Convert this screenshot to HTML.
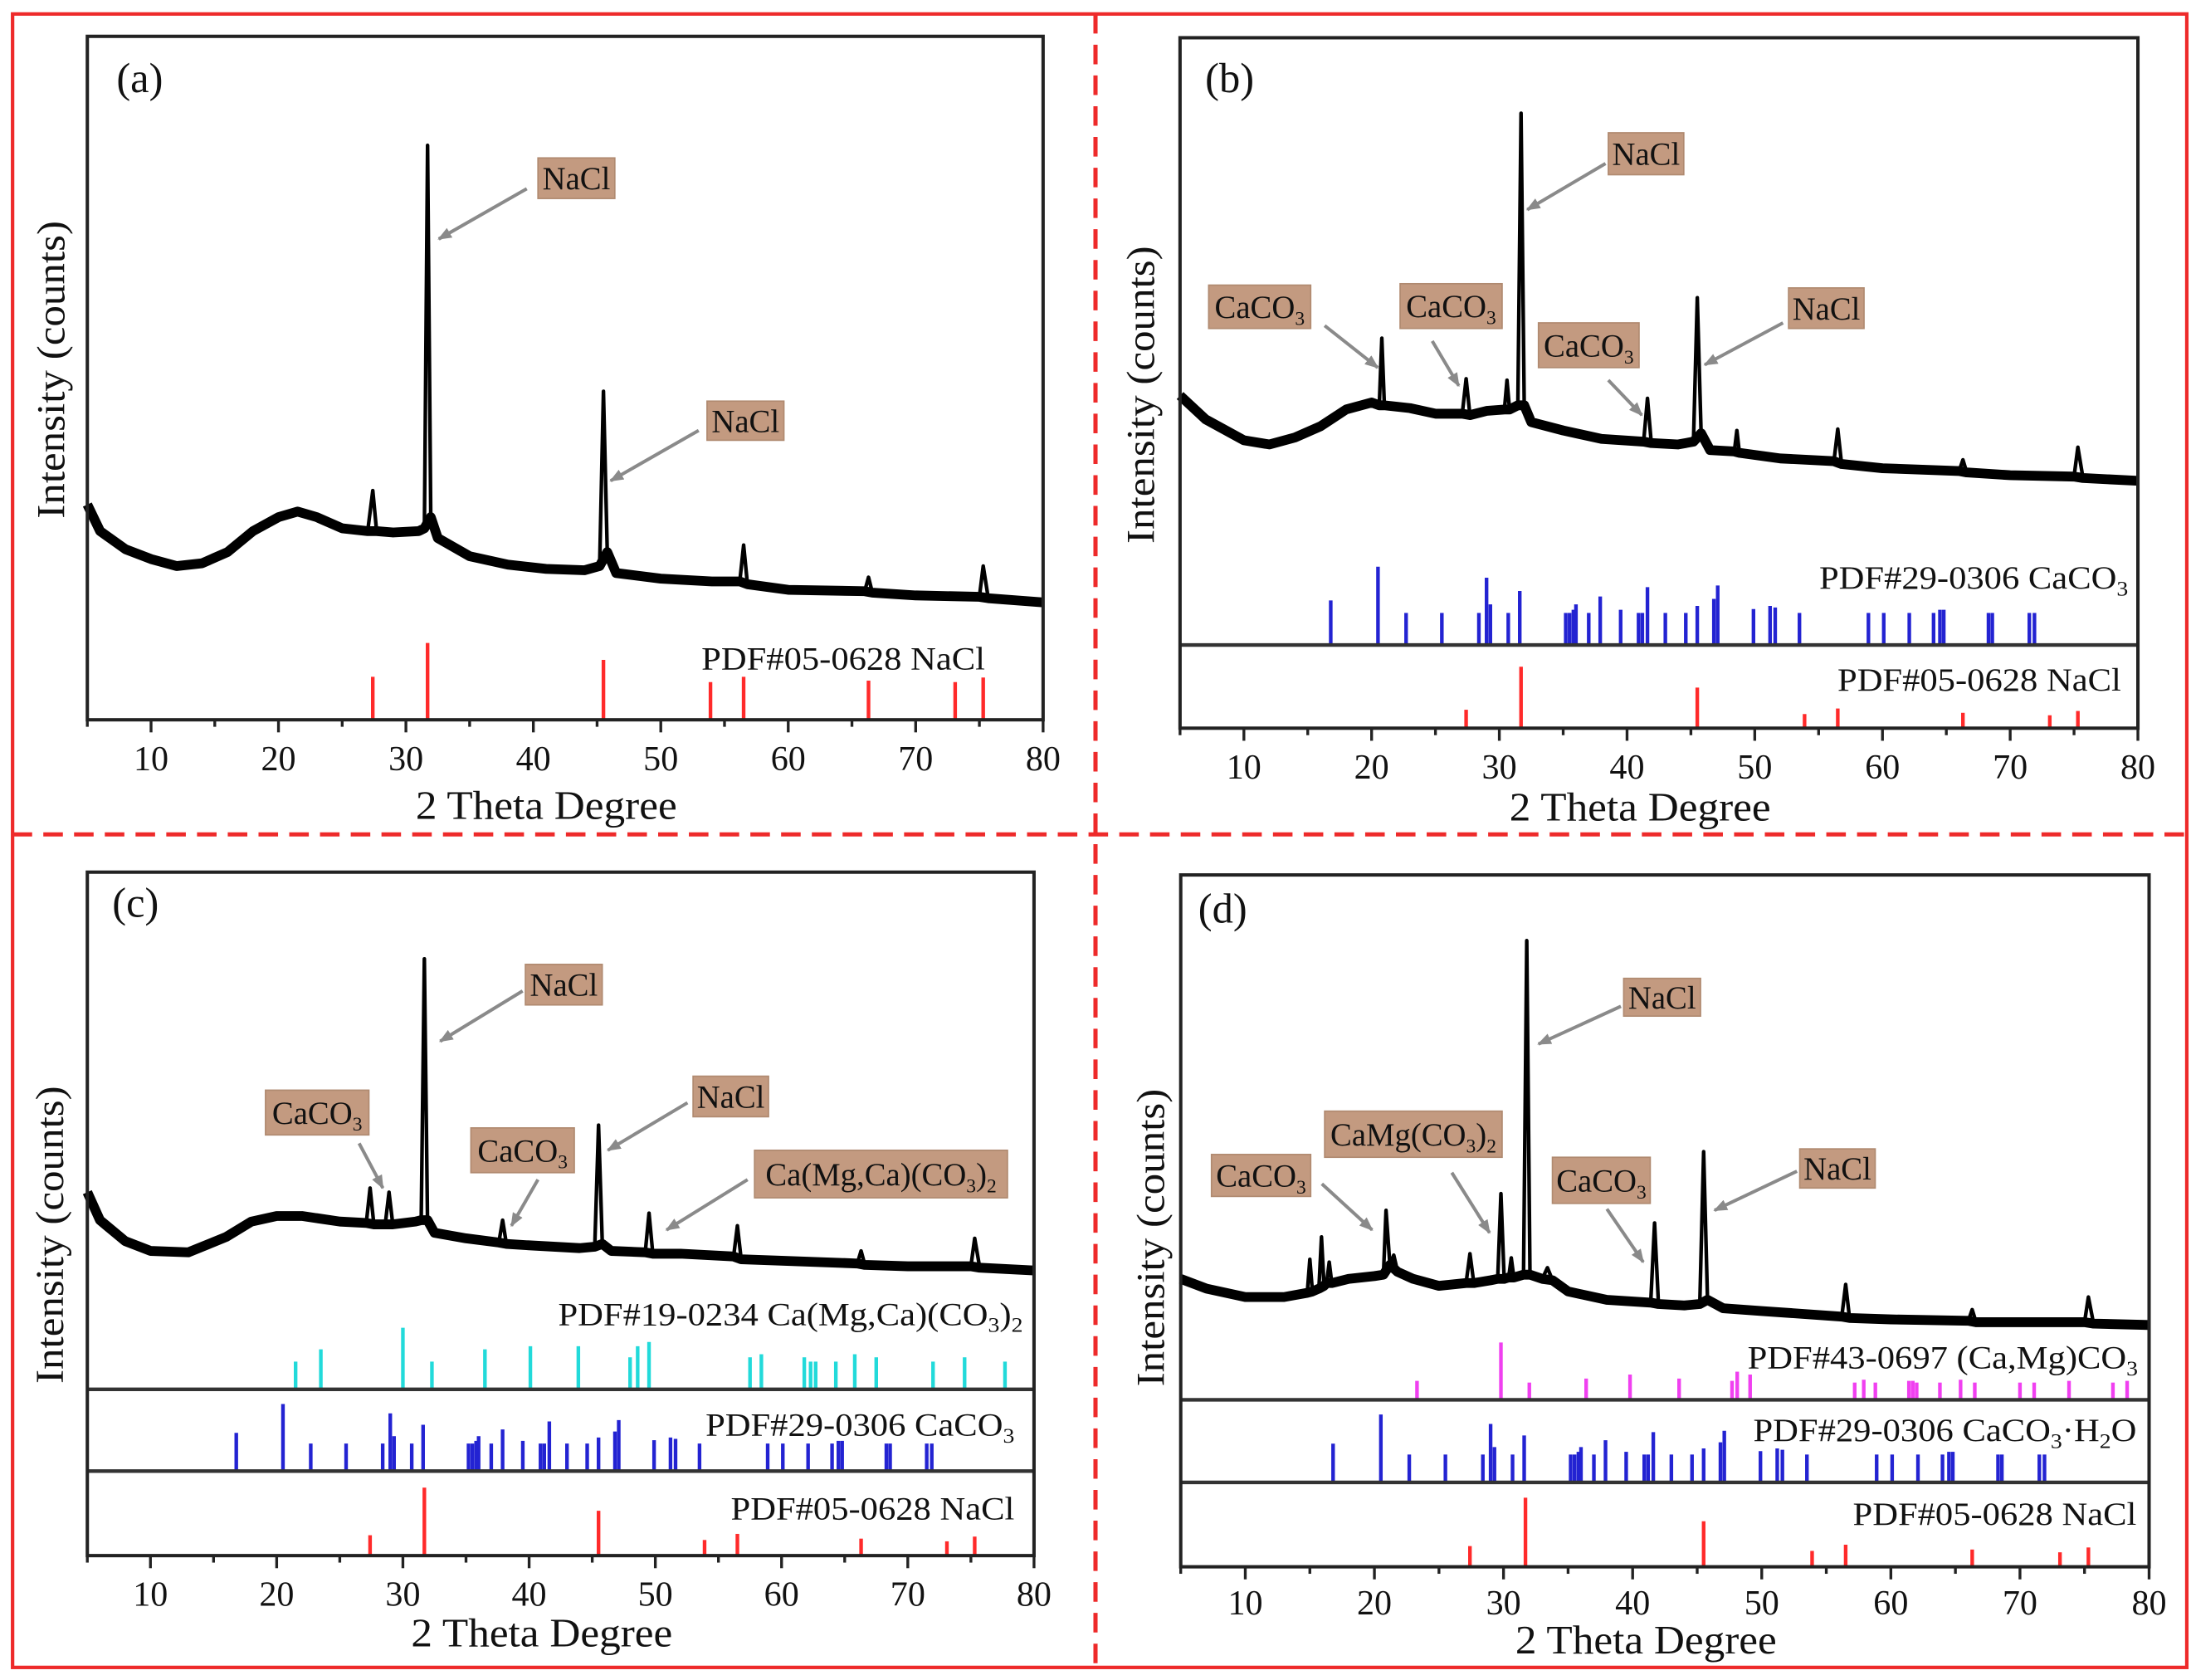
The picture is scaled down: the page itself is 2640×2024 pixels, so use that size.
<!DOCTYPE html>
<html><head><meta charset="utf-8"><title>XRD patterns</title>
<style>
html,body{margin:0;padding:0;background:#fff;}
svg{display:block;}
text{font-family:"Liberation Serif",serif;fill:#111;}
</style></head>
<body>
<svg id="fig" xmlns="http://www.w3.org/2000/svg" width="2640" height="2024" viewBox="0 0 1568 1202" preserveAspectRatio="none">
<defs>
<marker id="ah" markerWidth="10" markerHeight="8" refX="9" refY="4" orient="auto" markerUnits="userSpaceOnUse">
<polygon points="0,0 10,4 0,8" fill="#8a8a8a"/>
</marker>
</defs>
<rect x="9" y="10" width="1556" height="1183" fill="none" stroke="#ee2a2a" stroke-width="2.5"/>
<line x1="784" y1="10" x2="784" y2="1193" stroke="#ee2a2a" stroke-width="3" stroke-dasharray="14,8"/>
<line x1="9" y1="597" x2="1565" y2="597" stroke="#ee2a2a" stroke-width="3" stroke-dasharray="14,8"/>
<g id="root"></g>
</svg>
<script>
// ---------- data ----------
const xTicks = [10,20,30,40,50,60,70,80];
const minorTicks = [5,15,25,35,45,55,65,75];
// measured pattern curves: [2theta, counts]
const curveA = [[5,1540],[6,1350],[8,1220],[10,1150],[12,1100],[14,1120],[16,1200],[18,1350],[20,1450],[21.5,1490],[23,1450],[25,1370],[27,1350],[27.4,1640],[27.7,1350],[29,1340],[31,1350],[31.45,1370],[31.7,4110],[31.95,1450],[32.5,1300],[35,1170],[38,1110],[41,1080],[44,1070],[45.2,1100],[45.5,2350],[45.8,1200],[46.5,1050],[50,1010],[54,990],[56.2,990],[56.5,1250],[56.8,970],[60,930],[66,920],[66.3,1020],[66.6,910],[70,890],[75,880],[75.3,1100],[75.7,870],[80,840]];
const curveB = [[5,2380],[7,2210],[10,2060],[12,2030],[14,2080],[16,2160],[18,2280],[20,2330],[20.6,2310],[20.8,2790],[21,2310],[23,2290],[25,2250],[27.1,2250],[27.4,2500],[27.7,2240],[29,2270],[30.4,2280],[30.6,2490],[30.8,2280],[31.45,2310],[31.7,4400],[31.95,2310],[32.5,2190],[35,2130],[38,2070],[41.3,2050],[41.6,2360],[41.9,2040],[44,2030],[45.2,2050],[45.5,3080],[45.8,2110],[46.5,1990],[48.4,1980],[48.6,2130],[48.8,1970],[52,1930],[56.2,1910],[56.5,2140],[56.8,1890],[60,1860],[66,1840],[66.3,1920],[66.6,1830],[70,1810],[75,1800],[75.3,2010],[75.7,1790],[80,1770]];
const curveC = [[5,2600],[6,2400],[8,2250],[10,2180],[13,2170],[16,2280],[18,2390],[20,2430],[22,2430],[25,2390],[27.1,2380],[27.4,2630],[27.7,2370],[28.6,2370],[28.9,2600],[29.2,2370],[31,2390],[31.45,2400],[31.7,4270],[31.95,2400],[32.5,2310],[35,2270],[37.6,2240],[37.9,2400],[38.2,2230],[40,2220],[44,2200],[45.2,2210],[45.5,3080],[45.8,2230],[46.5,2180],[49.2,2170],[49.5,2450],[49.8,2160],[52,2160],[56.2,2140],[56.5,2360],[56.8,2120],[60,2110],[66,2090],[66.3,2180],[66.6,2080],[70,2070],[75,2070],[75.3,2270],[75.7,2060],[80,2040]];
const curveD = [[5,2060],[7,1990],[10,1930],[13,1930],[14.8,1960],[15,2200],[15.2,1970],[15.7,1990],[15.9,2360],[16.1,2010],[16.3,2030],[16.5,2180],[16.7,2030],[18,2060],[20,2080],[20.7,2090],[20.9,2550],[21.2,2160],[21.5,2230],[21.8,2110],[23,2060],[25,2010],[27.1,2030],[27.4,2240],[27.7,2030],[29,2050],[29.55,2060],[29.8,2670],[30.05,2060],[30.4,2070],[30.6,2210],[30.8,2070],[31.55,2090],[31.8,4480],[32.05,2090],[33,2060],[33.4,2140],[33.8,2050],[35,1970],[38,1910],[41.4,1890],[41.7,2460],[42,1880],[44,1870],[45.2,1880],[45.5,2970],[45.8,1910],[47,1850],[50,1830],[56.2,1790],[56.5,2020],[56.8,1780],[60,1770],[66,1760],[66.3,1840],[66.6,1750],[70,1750],[75,1750],[75.3,1930],[75.7,1740],[80,1730]];
// reference card positions and relative intensities
const naclPos = [27.4,31.7,45.5,53.9,56.5,66.3,73.1,75.3];
const naclInt = [30,100,66,23,32,25,21,28];
const naclIntA = [56,100,78,49,56,51,49,55];
const caco3Pos = [16.8,20.5,22.7,25.5,28.4,29.0,29.3,30.7,31.6,35.2,35.5,35.8,36.0,37.0,37.9,39.5,40.9,41.2,41.6,43.0,44.6,45.5,46.8,47.1,49.9,51.2,51.6,53.5,58.9,60.1,62.1,64.0,64.5,64.8,68.3,68.6,71.5,71.9];
const caco3Int = [57,100,41,41,41,86,52,41,69,41,41,45,52,41,62,45,41,41,74,41,41,50,59,76,46,50,48,41,41,41,41,41,45,45,41,41,41,41];
const dolPos = [21.5,23.5,30.0,32.3,36.5,40.1,43.9,48.0,48.6,49.5,57.5,58.4,61.8,62.3,62.7,64.3,65.8,67.5,72.0,74.5,77.7];
const dolInt = [45,65,100,45,65,70,70,52,70,77,52,57,52,45,45,45,57,52,45,52,45];
const camgPos = [23.3,29.8,32.0,36.4,39.8,43.6,47.7,48.1,49.1,57.2,57.9,58.8,61.4,61.7,62.0,63.8,65.4,66.5,70.0,71.1,73.8,77.2,78.3];
const camgInt = [33,100,30,37,44,37,33,49,44,30,35,30,33,33,30,30,35,30,30,30,33,30,33];

// ---------- layout ----------
const NS = "http://www.w3.org/2000/svg";
const root = document.getElementById('root');
function mk(tag, attrs, parent){
  const e = document.createElementNS(NS, tag);
  for (const k in attrs) e.setAttribute(k, attrs[k]);
  (parent||root).appendChild(e);
  return e;
}
const panels = [
  {id:'a', x0:62.5, x1:746.5, top:26, bottom:515, curve:curveA, lab:[100,56], ylab:[37,265], tickY:551, titleY:586,
   seps:[], sticks:[{pos:naclPos,int:naclIntA,base:515,maxH:55,color:'#ff2a2a',name:'nacl'}],
   cards:[{t:'PDF#05-0628 NaCl',x:705,y:479}]},
  {id:'b', x0:844.5, x1:1530, top:27, bottom:521, curve:curveB, lab:[880,56], ylab:[817,283], tickY:557, titleY:587,
   seps:[461.5], sticks:[{pos:caco3Pos,int:caco3Int,base:461.5,maxH:56,color:'#2323d2',name:'caco3'},{pos:naclPos,int:naclInt,base:521,maxH:44,color:'#ff2a2a',name:'nacl'}],
   cards:[{t:'PDF#29-0306 CaCO',sub:'3',x:1523,y:421},{t:'PDF#05-0628 NaCl',x:1518,y:494}]},
  {id:'c', x0:62.5, x1:740, top:624, bottom:1113, curve:curveC, lab:[97,646], ylab:[36,884], tickY:1149, titleY:1178,
   seps:[994,1052.5], sticks:[{pos:dolPos,int:dolInt,base:994,maxH:44,color:'#22dada',name:'dolomite'},{pos:caco3Pos,int:caco3Int,base:1052.5,maxH:48,color:'#2323d2',name:'caco3'},{pos:naclPos,int:naclInt,base:1113,maxH:48.6,color:'#ff2a2a',name:'nacl'}],
   cards:[{t:'PDF#19-0234 Ca(Mg,Ca)(CO',sub:'3',after:')',sub2:'2',x:732,y:948},{t:'PDF#29-0306 CaCO',sub:'3',x:726,y:1027},{t:'PDF#05-0628 NaCl',x:726,y:1087}]},
  {id:'d', x0:845, x1:1538, top:626, bottom:1121, curve:curveD, lab:[875,650], ylab:[824,886], tickY:1155, titleY:1183,
   seps:[1001.5,1060.6], sticks:[{pos:camgPos,int:camgInt,base:1001.5,maxH:41,color:'#f040f0',name:'camg-carbonate'},{pos:caco3Pos,int:caco3Int,base:1060.6,maxH:48.6,color:'#2323d2',name:'caco3'},{pos:naclPos,int:naclInt,base:1121,maxH:49.4,color:'#ff2a2a',name:'nacl'}],
   cards:[{t:'PDF#43-0697 (Ca,Mg)CO',sub:'3',x:1530,y:979},{t:'PDF#29-0306 CaCO',sub:'3',after:'·H',sub2:'2',after2:'O',x:1529,y:1031},{t:'PDF#05-0628 NaCl',x:1529,y:1091}]}
];
const annotations = {
  a:[{parts:[['NaCl']],box:[385,113,440,142],arr:[377,135,314,171]},
     {parts:[['NaCl']],box:[506,287,561,315],arr:[500,308,437,344]}],
  b:[{parts:[['CaCO'],['3',1]],box:[865,204,938,235],arr:[948,233,986,263]},
     {parts:[['CaCO'],['3',1]],box:[1002,203,1075,235],arr:[1025,244,1044,276]},
     {parts:[['CaCO'],['3',1]],box:[1101,231,1173,263],arr:[1151,272,1175,297]},
     {parts:[['NaCl']],box:[1151,95,1205,125],arr:[1149,117,1093,150]},
     {parts:[['NaCl']],box:[1280,206,1334,235],arr:[1276,231,1220,261]}],
  c:[{parts:[['NaCl']],box:[376,690,431,719],arr:[374,709,315,745]},
     {parts:[['CaCO'],['3',1]],box:[190,780,264,812],arr:[257,818,274,850]},
     {parts:[['CaCO'],['3',1]],box:[337,807,411,839],arr:[385,844,366,877]},
     {parts:[['NaCl']],box:[496,770,550,799],arr:[492,789,435,823]},
     {parts:[['Ca(Mg,Ca)(CO'],['3',1],[')'],['2',1]],box:[540,823,721,857],arr:[535,844,477,880]}],
  d:[{parts:[['NaCl']],box:[1162,700,1217,727],arr:[1160,720,1101,747]},
     {parts:[['CaMg(CO'],['3',1],[')'],['2',1]],box:[948,795,1075,828],arr:[1039,839,1066,882]},
     {parts:[['CaCO'],['3',1]],box:[867,826,938,856],arr:[946,847,982,880]},
     {parts:[['CaCO'],['3',1]],box:[1111,828,1181,861],arr:[1150,865,1176,903]},
     {parts:[['NaCl']],box:[1288,822,1342,850],arr:[1286,838,1227,866]}]
};

panels.forEach(p => {
  const xOf = t => p.x0 + (t-5)/75*(p.x1-p.x0);
  const yOf = v => p.bottom - v*0.1;
  const g = mk('g', {});
  
  
  // sticks
  p.sticks.forEach(s => {
    const sg = mk('g', {}, g);
    
    
    s.pos.forEach((t,i) => {
      const l = mk('line', {x1:xOf(t), x2:xOf(t), y1:s.base, y2:s.base - s.int[i]/100*s.maxH, stroke:s.color, 'stroke-width':2.6}, sg);
      
      
    });
  });
  // separators
  p.seps.forEach(y => {
    const l = mk('line', {x1:p.x0, x2:p.x1, y1:y, y2:y, stroke:'#333', 'stroke-width':2.6}, g);
    
    
  });
  // curve: thick noisy background band (peak apexes skipped) + thin full trace
  const pts = p.curve;
  const isApex = i => i > 0 && i < pts.length-1 && pts[i][1] - Math.max(pts[i-1][1], pts[i+1][1]) > 60;
  const bandPts = pts.filter((pt,i) => !isApex(i));
  const band = mk('path', {d: bandPts.map((pt,i) => (i?'L':'M') + xOf(pt[0]).toFixed(2) + ',' + yOf(pt[1]).toFixed(2)).join(' '), fill:'none', stroke:'#000', 'stroke-width':7, 'stroke-linejoin':'round'}, g);
  
  
  const d = pts.map((pt,i) => (i?'L':'M') + xOf(pt[0]).toFixed(2) + ',' + yOf(pt[1]).toFixed(2)).join(' ');
  const c = mk('path', {d:d, fill:'none', stroke:'#000', 'stroke-width':2.6, 'stroke-linejoin':'round'}, g);
  
  
  // frame
  const f = mk('rect', {x:p.x0, y:p.top, width:p.x1-p.x0, height:p.bottom-p.top, fill:'none', stroke:'#222', 'stroke-width':2.4}, g);
  
  
  // ticks
  xTicks.forEach(t => {
    const l = mk('line', {x1:xOf(t), x2:xOf(t), y1:p.bottom, y2:p.bottom+9, stroke:'#222', 'stroke-width':2}, g);
    
    
    const tx = mk('text', {x:xOf(t), y:p.tickY, 'font-size':25, 'text-anchor':'middle'}, g);
    tx.textContent = t;
    
    
  });
  minorTicks.forEach(t => {
    const l = mk('line', {x1:xOf(t), x2:xOf(t), y1:p.bottom, y2:p.bottom+5, stroke:'#222', 'stroke-width':2}, g);
    
    
  });
  const xt = mk('text', {x:(p.x0+p.x1)/2 - 14 - 93, y:p.titleY, 'font-size':29, textLength:187, lengthAdjust:'spacingAndGlyphs'}, g);
  xt.textContent = '2 Theta Degree';
  
  
  const yt = mk('text', {x:-106, y:0, 'font-size':28, textLength:213, lengthAdjust:'spacingAndGlyphs', transform:'translate(' + (p.ylab[0]+9) + ',' + p.ylab[1] + ') rotate(-90)'}, g);
  yt.textContent = 'Intensity (counts)';
  
  
  const pl = mk('text', {x:p.lab[0], y:p.lab[1]+10, 'font-size':30, 'text-anchor':'middle'}, g);
  pl.textContent = '(' + p.id + ')';
  
  
  // card labels
  p.cards.forEach(cd => {
    const t = mk('text', {x:0, y:0, 'font-size':23, 'text-anchor':'end', transform:'translate(' + cd.x + ',' + cd.y + ') scale(1.1,1)'}, g);
    
    
    const s1 = mk('tspan', {}, t); s1.textContent = cd.t;
    if (cd.sub) { const s = mk('tspan', {'font-size':15, dy:5}, t); s.textContent = cd.sub; }
    if (cd.after) { const s = mk('tspan', {dy:-5}, t); s.textContent = cd.after; }
    if (cd.sub2) { const s = mk('tspan', {'font-size':15, dy:5}, t); s.textContent = cd.sub2; }
    if (cd.after2) { const s = mk('tspan', {dy:-5}, t); s.textContent = cd.after2; }
  });
  // annotations
  annotations[p.id].forEach(a => {
    const ag = mk('g', {}, g);
    
    
    const [bx1,by1,bx2,by2] = a.box;
    mk('rect', {x:bx1, y:by1, width:bx2-bx1, height:by2-by1, fill:'#c39a80', stroke:'#b08a70', 'stroke-width':1}, ag);
    const t = mk('text', {x:(bx1+bx2)/2, y:(by1+by2)/2 + 8, 'font-size':23, 'text-anchor':'middle'}, ag);
    let shifted = false;
    a.parts.forEach(pt => {
      const s = mk('tspan', {}, t);
      s.textContent = pt[0];
      if (pt[1]) { s.setAttribute('font-size', 14); s.setAttribute('dy', 5); shifted = true; }
      else if (shifted) { s.setAttribute('dy', -5); shifted = false; }
    });
    const [ax1,ay1,ax2,ay2] = a.arr;
    mk('line', {x1:ax1, y1:ay1, x2:ax2, y2:ay2, stroke:'#8a8a8a', 'stroke-width':2.4, 'marker-end':'url(#ah)'}, ag);
  });
});
</script>
</body></html>
